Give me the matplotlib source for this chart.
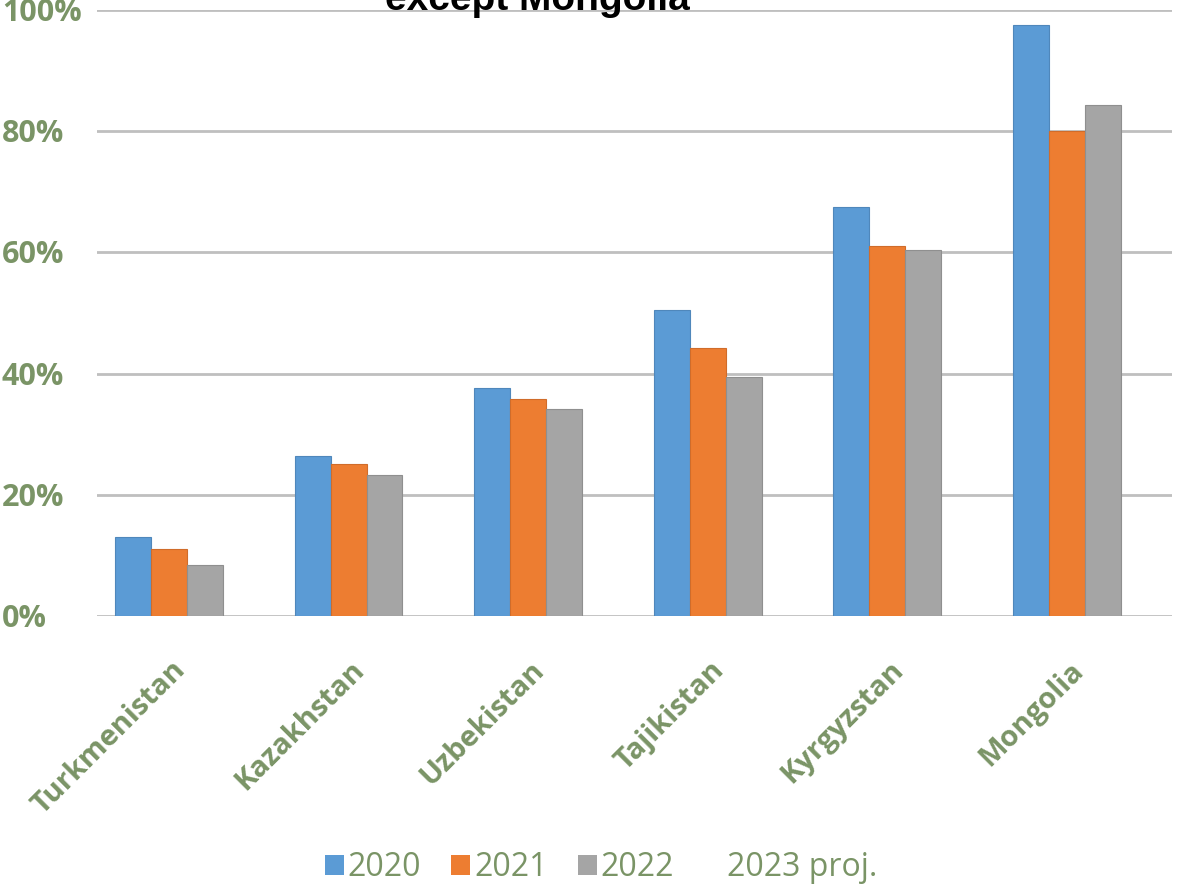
import matplotlib
matplotlib.use("Agg")
import matplotlib.pyplot as plt
import matplotlib.transforms as mtransforms
import numpy as np
from matplotlib.patches import Patch

categories = ["Turkmenistan", "Kazakhstan", "Uzbekistan", "Tajikistan", "Kyrgyzstan", "Mongolia"]
series_names = ["2020", "2021", "2022", "2023 proj."]
v2020 = [13.0, 26.4, 37.6, 50.5, 67.5, 97.5]
v2021 = [11.1, 25.1, 35.8, 44.2, 61.1, 80.0]
v2022 = [8.4, 23.3, 34.2, 39.4, 60.4, 84.3]
v2023 = [0, 0, 0, 0, 0, 0]
yticks = [0, 20, 40, 60, 80, 100]
ytick_labels = ["0%", "20%", "40%", "60%", "80%", "100%"]
title = "except Mongolia"

colors = ["#5b9bd5", "#ed7d31", "#a5a5a5"]
edge = ["#4f87bb", "#d06c2a", "#8f8f8f"]
green = "#7a9466"
font = "Open Sans"

W, H = 1179, 886
fig = plt.figure(figsize=(W / 100, H / 100), dpi=100)
left, right, top, bottom = 97, 1172, 10, 616
ax = fig.add_axes([left / W, 1 - bottom / H, (right - left) / W, (bottom - top) / H])

x = np.arange(len(categories))
w = 0.2
for i, vals in enumerate([v2020, v2021, v2022]):
    ax.bar(x + (i - 1) * w, vals, width=w, color=colors[i], edgecolor=edge[i], linewidth=0.8, zorder=3)

ax.set_ylim(0, 100)
ax.set_xlim(-0.401, 5.585)
ax.set_yticks(yticks)
ax.set_yticklabels(ytick_labels, fontsize=22, color=green, fontweight="bold", family=font)
ax.tick_params(axis="y", length=0, pad=0)
for t in ax.get_yticklabels():
    t.set_horizontalalignment("left")
    t.set_verticalalignment("center")
    t.set_x(-95 / (right - left))
    t.set_transform(t.get_transform() + mtransforms.ScaledTranslation(0, -3 / 100, fig.dpi_scale_trans))
ax.set_xticks(x)
ax.set_xticklabels(categories, rotation=45, ha="right", va="center", rotation_mode="anchor",
                   fontsize=21, color=green, fontweight="bold", family=font)
ax.tick_params(axis="x", length=0, pad=36)
for t in ax.get_xticklabels():
    t.set_transform(t.get_transform() + mtransforms.ScaledTranslation(12 / 100, 0, fig.dpi_scale_trans))
ax.grid(axis="y", color="#bfbfbf", linewidth=2, zorder=0)
for s in ax.spines.values():
    s.set_visible(False)

fig.text(537 / W, 1 - 10 / H, title, ha="center", va="baseline", fontsize=28,
         fontweight="bold", color="black", family="Liberation Sans")

handles = [Patch(facecolor=colors[i], edgecolor="none") for i in range(3)] + [Patch(facecolor="none", edgecolor="none")]
leg = fig.legend(handles, series_names, loc="center", bbox_to_anchor=(601 / W, 1 - 868 / H), ncol=4,
                 frameon=False, handlelength=0.6, handleheight=0.6, handletextpad=0.12, columnspacing=0.94,
                 borderpad=0, prop={"family": font, "size": 23})
for t in leg.get_texts():
    t.set_color(green)

fig.savefig("out.png", dpi=100)
